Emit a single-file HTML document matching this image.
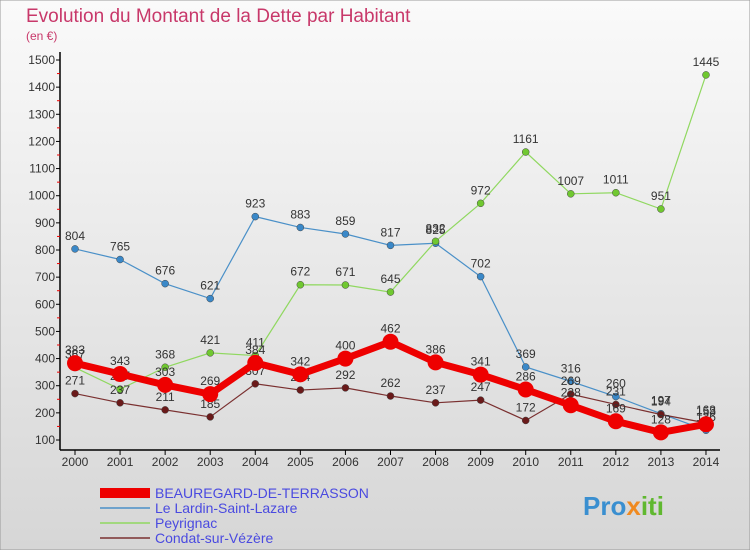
<!DOCTYPE html>
<html><head><meta charset="utf-8"><style>
body{margin:0;width:750px;height:550px;overflow:hidden;font-family:"Liberation Sans",sans-serif}
svg{display:block}
</style></head><body>
<svg id="c" width="750" height="550" xmlns="http://www.w3.org/2000/svg">
<defs>
<linearGradient id="bg" x1="0" y1="0" x2="0" y2="1"><stop offset="0" stop-color="#fafafa"/><stop offset="1" stop-color="#d6d6d6"/></linearGradient>
</defs>
<rect x="0" y="0" width="750" height="550" fill="url(#bg)" stroke="#999"/>
<text x="26" y="22" font-size="19" fill="#c8386a">Evolution du Montant de la Dette par Habitant</text>
<text x="26" y="40" font-size="12" fill="#c8386a">(en €)</text>
<g id="axes"></g>
<g id="series"></g>
<g id="legend"></g>
<text x="583" y="515" font-size="26" font-weight="bold" fill="#3a8fd0">Pro<tspan fill="#f08a20">x</tspan><tspan fill="#60b830">iti</tspan></text>
</svg>
<script>
const years=[2000,2001,2002,2003,2004,2005,2006,2007,2008,2009,2010,2011,2012,2013,2014];
const beauregard=[383,343,303,269,384,342,400,462,386,341,286,228,169,128,158];
const lardin=[804,765,676,621,923,883,859,817,825,702,369,316,260,197,136];
const peyrignac=[367,287,368,421,411,672,671,645,832,972,1161,1007,1011,951,1445];
const condat=[271,237,211,185,307,284,292,262,237,247,172,269,231,194,163];
const yTicks=[100,200,300,400,500,600,700,800,900,1000,1100,1200,1300,1400,1500];
const names=["BEAUREGARD-DE-TERRASSON","Le Lardin-Saint-Lazare","Peyrignac","Condat-sur-Vézère"];
const NS="http://www.w3.org/2000/svg";
const X=i=>75+i*45.07, Y=v=>440-(v-100)*380/1400;
function mk(t,a,p){const e=document.createElementNS(NS,t);for(const k in a)e.setAttribute(k,a[k]);p.appendChild(e);return e;}
const ax=document.getElementById('axes');
let l=mk('line',{x1:60,y1:52,x2:60,y2:450,stroke:'#000','stroke-width':1.5},ax);


l=mk('line',{x1:60,y1:450,x2:720,y2:450,stroke:'#000','stroke-width':1.5},ax);


yTicks.forEach((v,i)=>{
 mk('line',{x1:56,y1:Y(v),x2:60,y2:Y(v),stroke:'#000'},ax);
 if(i<yTicks.length-1)mk('line',{x1:57,y1:Y(v+50),x2:60,y2:Y(v+50),stroke:'#e00'},ax);
 const t=mk('text',{x:55,y:Y(v)+4,'font-size':12,'text-anchor':'end',fill:'#333'},ax);t.textContent=v;
 
 
});
years.forEach((y,i)=>{
 mk('line',{x1:X(i),y1:450,x2:X(i),y2:455,stroke:'#000'},ax);
 const t=mk('text',{x:X(i),y:466,'font-size':12,'text-anchor':'middle',fill:'#333'},ax);t.textContent=y;
 
 
});
const sg=document.getElementById('series');
const defs=[[lardin,'#4a90c8','#3a88c8',1.2,3.5,'series-lardin'],[peyrignac,'#90d860','#70c830',1.2,3.5,'series-peyrignac'],[condat,'#7a3030','#6a1a1a',1.2,3.5,'series-condat'],[beauregard,'#ee0000','#ee0000',7,8,'series-beauregard']];
defs.forEach(d=>{
 const g=mk('g',{},sg);
 
 
 const p=mk('polyline',{points:d[0].map((v,i)=>X(i)+','+Y(v)).join(' '),fill:'none',stroke:d[1],'stroke-width':d[3]},g);
 d[0].forEach((v,i)=>{
  const c=mk('circle',{cx:X(i),cy:Y(v),r:d[4],fill:d[2],stroke:d[4]>5?'none':'#444','stroke-width':0.5},g);
  
  
  const t=mk('text',{x:X(i),y:Y(v)-9,'font-size':12,'text-anchor':'middle',fill:'#333'},g);t.textContent=v;
  
  
 });
});
const lg=document.getElementById('legend');
const lc=['#ee0000','#4a90c8','#90d860','#7a3030'], lw=[10,1.5,1.5,1.5];
names.forEach((n,i)=>{
 const y=493+i*15;
 const e=mk('g',{},lg);
 
 
 mk('line',{x1:100,y1:y,x2:150,y2:y,stroke:lc[i],'stroke-width':lw[i]},e);
 const t=mk('text',{x:155,y:y+5,'font-size':14,fill:'#4a4ae0'},e);t.textContent=n;
});
</script>
</body></html>
